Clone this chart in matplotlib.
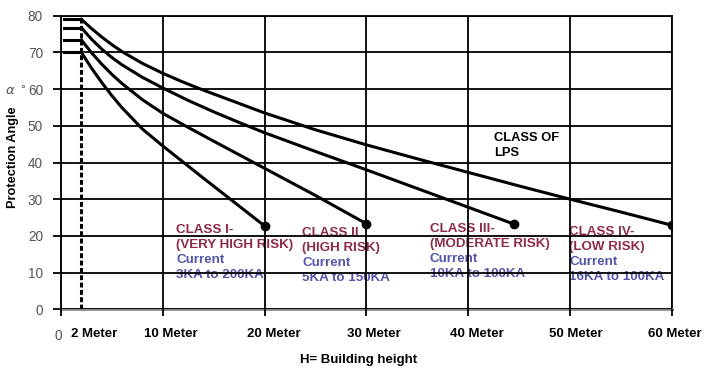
import matplotlib.pyplot as plt
import numpy as np

plt.rcParams['font.family'] = ['Liberation Sans', 'DejaVu Sans']

# heights (m) and protection angles (deg), one series per LPS class
h_class1 = [2, 3, 4, 5, 6, 8, 10, 12, 14, 17, 20]
a_class1 = [70, 65.7, 61.8, 58.2, 54.9, 49.1, 44.5, 40.1, 35.7, 29.2, 22.7]

h_class2 = [2, 3, 4, 5, 6, 8, 10, 12, 15, 20, 25, 30]
a_class2 = [73.4, 69.9, 66.8, 64, 61.5, 57.1, 53.4, 50.3, 45.8, 38.4, 31, 23.3]

h_class3 = [2, 3, 4, 5, 6, 8, 10, 12.5, 15, 17.5, 20, 25, 30, 35, 40, 44.5]
a_class3 = [76.7, 73.6, 70.9, 68.6, 66.6, 63.2, 60.3, 56.9, 53.8, 50.9, 48.1, 43, 38, 32.9, 27.8, 23.2]

h_class4 = [2, 3, 4, 5, 6, 8, 10, 12, 14, 17, 20, 25, 30, 35, 40, 45, 50, 55, 60]
a_class4 = [79, 76.5, 74.2, 72.1, 70.2, 67, 64.3, 61.9, 59.7, 56.6, 53.5, 48.9, 44.8, 41, 37.3, 33.6, 30, 26.5, 22.9]

class_names = ['CLASS I-', 'CLASS II', 'CLASS III-', 'CLASS IV-']
risk_names  = ['(VERY HIGH RISK)', '(HIGH RISK)', '(MODERATE RISK)', '(LOW RISK)']
currents    = ['3KA to 200KA', '5KA to 150KA', '10KA to 100KA', '16KA to 100KA']

xticks       = [0, 2, 10, 20, 30, 40, 50, 60]
xtick_labels = ['0', '2 Meter', '10 Meter', '20 Meter', '30 Meter', '40 Meter', '50 Meter', '60 Meter']
yticks       = [0, 10, 20, 30, 40, 50, 60, 70, 80]

RED  = '#8e2b47'
BLUE = '#5555aa'
GREY = '#555555'

###############################################################################
# Figure
###############################################################################
fig = plt.figure(figsize=(7.17, 3.75), dpi=100)
ax = fig.add_axes([0.0851, 0.1752, 0.8521, 0.7829])
ax.set_xlim(0, 60)
ax.set_ylim(0, 80)
ax.set_axisbelow(False)

# grid
ax.set_xticks([t for t in xticks if t != 2])
ax.set_xticklabels([])
ax.set_yticks(yticks)
ax.set_yticklabels([str(t) for t in yticks], color=GREY, fontsize=9.8)
ax.grid(True, color='black', lw=1.3, zorder=2)
ax.tick_params(axis='x', length=5, width=1.3, color='black')
ax.tick_params(axis='y', length=6, width=1.3, color='black', pad=7)
for s in ['left', 'right', 'top']:
    ax.spines[s].set_color('black')
    ax.spines[s].set_linewidth(1.3)
ax.spines['bottom'].set_color('#888888')
ax.spines['bottom'].set_linewidth(2)

# 2 m dashed line
ax.axvline(2, color='black', lw=2.2, ls=(0, (1.6, 0.8)), zorder=3)

###############################################################################
# Curves
###############################################################################
series = [(h_class1, a_class1), (h_class2, a_class2),
          (h_class3, a_class3), (h_class4, a_class4)]
for h, a in series:
    ax.plot(h, a, color='black', lw=2.2, zorder=4, solid_joinstyle='round')
    ax.plot([0.3, h[0]], [a[0], a[0]], color='black', lw=2.2, zorder=4)
    ax.plot(h[-1], a[-1], 'o', color='black', ms=6, zorder=5)

###############################################################################
# Texts
###############################################################################
text_pos = [(11.3, 21.6), (23.7, 20.7), (36.2, 21.8), (49.9, 21.1)]
for (x, y), c, r, cur in zip(text_pos, class_names, risk_names, currents):
    lines = [(c, RED), (r, RED), ('Current', BLUE), (cur, BLUE)]
    for i, (t, col) in enumerate(lines):
        ax.text(x, y - i * 4.1, t, color=col, fontsize=9.6, fontweight='bold',
                ha='left', va='center', zorder=1)

ax.text(42.5, 46.6, 'CLASS OF', fontsize=9.3, fontweight='bold', va='center', zorder=1)
ax.text(42.5, 42.5, 'LPS', fontsize=9.3, fontweight='bold', va='center', zorder=1)

# x tick labels drawn a little to the right of their grid lines
xlabel_shift = [-0.3, 1.3, 0.8, 0.9, 0.7, 0.8, 0.6, 0.3]
trans = ax.get_xaxis_transform()
for t, lab, d in zip(xticks, xtick_labels, xlabel_shift):
    if lab == '0':
        ax.text(t + d, -0.09, lab, transform=trans, ha='center', va='center',
                color=GREY, fontsize=9.8, clip_on=False)
    else:
        ax.text(t + d, -0.085, lab, transform=trans, ha='center', va='center',
                fontsize=9.5, fontweight='bold', clip_on=False)

fig.text(358.5 / 717, 1 - 360 / 375, 'H= Building height', ha='center', va='center',
         fontsize=9.5, fontweight='bold')
fig.text(13 / 717, 1 - 157.5 / 375, 'Protection Angle', rotation=90, ha='center',
         va='center', fontsize=9.2, fontweight='bold')
fig.text(10.5 / 717, 1 - 90.5 / 375, 'α', ha='center', va='center', color=GREY,
         fontsize=9.5, style='italic', family='DejaVu Sans')
fig.text(22.7 / 717, 1 - 87 / 375, '∘', ha='center', va='center', color=GREY,
         fontsize=8, family='DejaVu Sans')

fig.savefig('out.png', dpi=100)
